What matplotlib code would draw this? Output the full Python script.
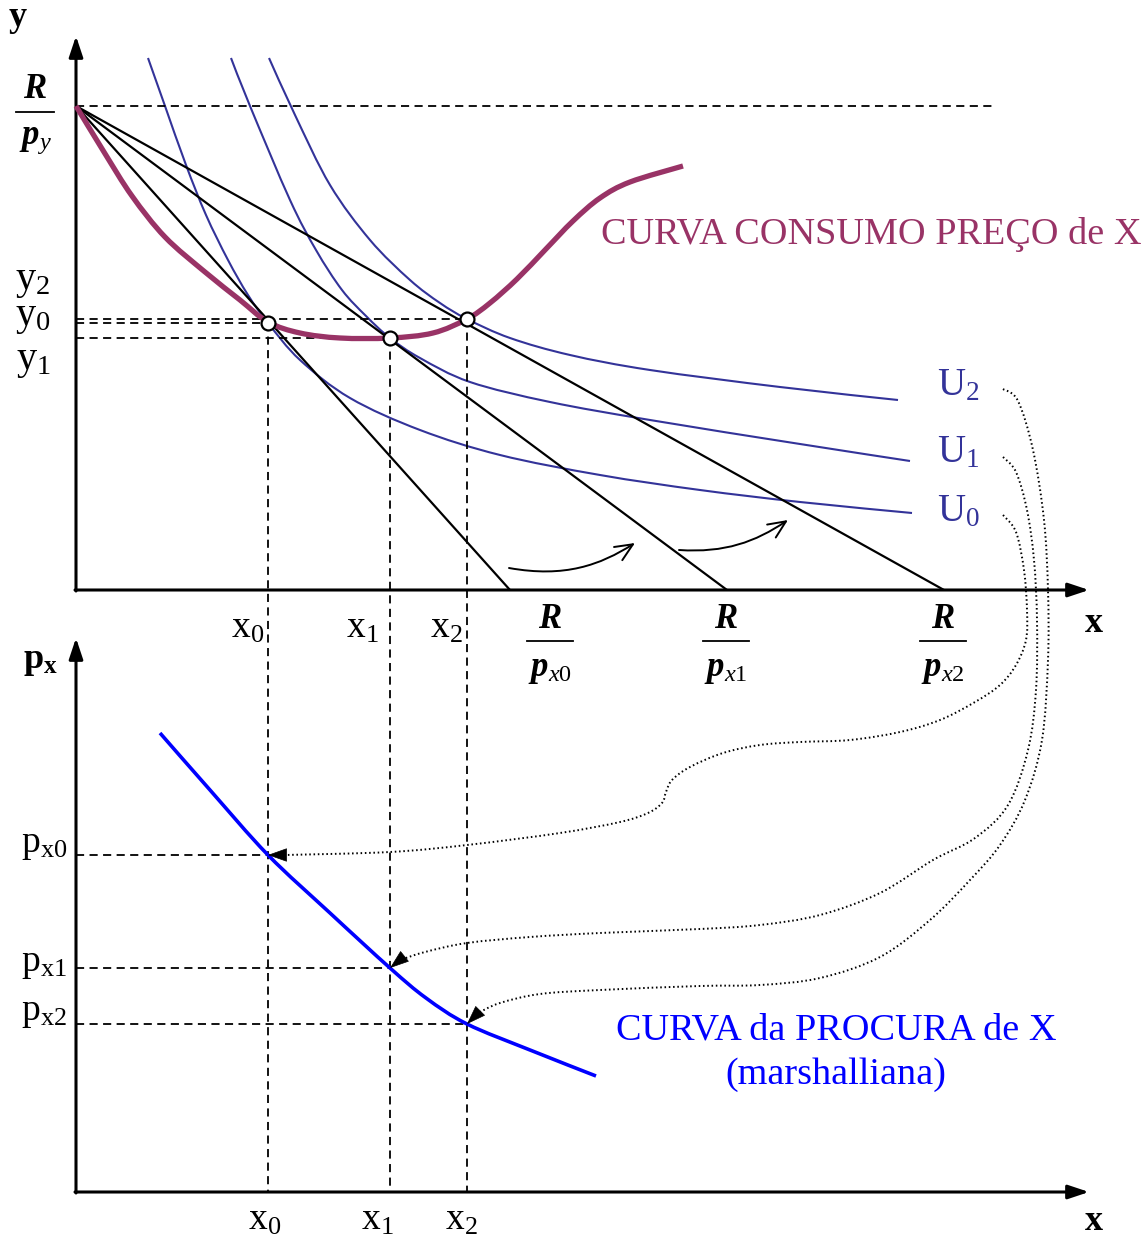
import numpy as np
import matplotlib
matplotlib.use('Agg')
import matplotlib.pyplot as plt
from matplotlib.path import Path
from matplotlib.patches import PathPatch, FancyArrowPatch

plt.rcParams['font.family'] = ['Liberation Serif', 'DejaVu Serif']
plt.rcParams['mathtext.fontset'] = 'custom'
plt.rcParams['mathtext.rm'] = 'Liberation Serif'
plt.rcParams['mathtext.it'] = 'Liberation Serif:italic'
plt.rcParams['mathtext.bf'] = 'Liberation Serif:bold'
plt.rcParams['mathtext.bfit'] = 'Liberation Serif:italic:bold'

# ---- dados (unidades de cada painel, origem no canto dos eixos) ----
# painel de cima: x, y
R_PY = 484                      # R/py
R_PX = [434, 651, 868]          # R/px0, R/px1, R/px2
X_EQ = [192, 314, 391]          # x0, x1, x2
Y_EQ = [267, 252, 271]          # y0, y1, y2

# curva consumo-preço
CCP_X = [0, 28, 56, 89, 129, 164, 192, 224, 264, 314, 357, 391, 414, 441, 469, 497, 524, 554, 607]
CCP_Y = [484, 438, 394, 353, 318, 290, 268, 257, 252, 252, 257, 271, 287, 311, 340, 369, 392, 408, 424]

# curvas de indiferença
U0_X = [72, 89, 110, 130, 152, 172, 192, 224, 274, 344, 424, 524, 624, 724, 836]
U0_Y = [532, 484, 425, 375, 330, 295, 267, 230, 192, 160, 135, 115, 100, 88, 77]
U1_X = [155, 174, 214, 240, 266, 290, 314, 344, 394, 474, 574, 724, 834]
U1_Y = [532, 484, 390, 340, 300, 274, 252, 232, 208, 188, 170, 146, 129]
U2_X = [193, 219, 254, 294, 334, 364, 391, 434, 494, 574, 704, 822]
U2_Y = [532, 475, 405, 350, 310, 287, 271, 252, 235, 220, 203, 190]

# painel de baixo: x, px
PX = [337, 224, 168]            # px0, px1, px2
DEM_X = [84, 134, 192, 254, 314, 350, 391, 454, 520]
DEM_P = [459, 402, 337, 279, 224, 194, 168, 142, 116]

# ligações pontilhadas U -> procura (unidades do painel de baixo)
D0_X = [927, 940, 948, 951, 950, 940, 924, 899, 864, 824, 774, 724, 684, 647, 614, 596, 590, 586, 572, 544, 484, 391, 314, 209]
D0_P = [677, 660, 622, 582, 552, 527, 507, 490, 472, 460, 452, 450, 447, 439, 425, 412, 400, 389, 379, 370, 359, 347, 340, 337]
D1_X = [927, 940, 951, 958, 961, 960, 952, 932, 899, 857, 804, 744, 684, 624, 524, 454, 391, 349, 324]
D1_P = [735, 720, 682, 632, 572, 502, 442, 387, 354, 332, 299, 277, 267, 263, 259, 255, 249, 240, 232]
D2_X = [927, 942, 957, 968, 972, 972, 966, 949, 924, 894, 854, 804, 744, 684, 624, 524, 464, 424, 402]
D2_P = [803, 791, 742, 672, 602, 532, 452, 392, 347, 312, 272, 235, 214, 207, 206, 202, 198, 189, 179]

# setas curvas junto ao eixo (início, controlo1, controlo2, fim)
ARR1 = [(433, 22), (489, 12), (524, 25), (559, 47)]
ARR2 = [(603, 40), (649, 37), (679, 48), (712, 70)]

# ---- layout ----
OX, OY_TOP, OY_BOT = 76, 590, 1192
PURPLE = '#993366'
IND = '#333399'
DEM = '#0000FF'


def top(x, y):
    return OX + np.asarray(x, float), OY_TOP - np.asarray(y, float)


def bot(x, p):
    return OX + np.asarray(x, float), OY_BOT - np.asarray(p, float)


def smooth(xs, ys):
    pts = np.column_stack([xs, ys])
    verts = [pts[0]]
    codes = [Path.MOVETO]
    n = len(pts)
    for i in range(n - 1):
        p0 = pts[i - 1] if i > 0 else pts[i]
        p1 = pts[i]
        p2 = pts[i + 1]
        p3 = pts[i + 2] if i + 2 < n else pts[i + 1]
        verts += [p1 + (p2 - p0) / 6, p2 - (p3 - p1) / 6, p2]
        codes += [Path.CURVE4] * 3
    return Path(verts, codes)


fig = plt.figure(figsize=(11.47, 12.40), dpi=100)
ax = fig.add_axes([0, 0, 1, 1])
ax.set_xlim(0, 1147)
ax.set_ylim(1240, 0)
ax.axis('off')

dash = dict(color='black', lw=1.3, dashes=(4.5, 3.0))

# linhas tracejadas
ax.plot(*top([0, 917], [R_PY, R_PY]), **dash)
for xe, ye, p in zip(X_EQ, Y_EQ, PX):
    ax.plot(*top([0, xe], [ye, ye]), **dash)
    ax.plot([OX + xe, OX + xe], [OY_TOP - ye, OY_BOT], **dash)
    ax.plot(*bot([0, xe], [p, p]), **dash)

# retas orçamentais
for r in R_PX:
    ax.plot(*top([0, r], [R_PY, 0]), color='black', lw=1.6, solid_capstyle='butt')

# curvas de indiferença
for xs, ys in [(U0_X, U0_Y), (U1_X, U1_Y), (U2_X, U2_Y)]:
    ax.add_patch(PathPatch(smooth(*top(xs, ys)), fill=False, ec=IND, lw=1.5))

# curva consumo-preço
ax.add_patch(PathPatch(smooth(*top(CCP_X, CCP_Y)), fill=False, ec=PURPLE, lw=3.8,
                       capstyle='butt', zorder=4))
ax.plot(*top(X_EQ, Y_EQ), 'o', ms=10, mfc='white', mec='black', mew=1.6, zorder=6)

# curva da procura
ax.add_patch(PathPatch(smooth(*bot(DEM_X, DEM_P)), fill=False, ec=DEM, lw=2.6, zorder=4))

# ligações pontilhadas com seta
for xs, ps, xe, p in [(D0_X, D0_P, X_EQ[0], PX[0]), (D1_X, D1_P, X_EQ[1], PX[1]),
                      (D2_X, D2_P, X_EQ[2], PX[2])]:
    ax.add_patch(PathPatch(smooth(*bot(xs, ps)), fill=False, ec='black', lw=1.4,
                           linestyle=(0, (0.8, 1.4))))
    tip = bot(xe, p)
    tail = bot(xs[-1], ps[-1])
    ax.annotate('', xy=tip, xytext=tail,
                arrowprops=dict(arrowstyle='-|>,head_length=0.9,head_width=0.32',
                                mutation_scale=14, lw=0.5, color='black',
                                shrinkA=0, shrinkB=0), zorder=7)

# setas curvas
for a in [ARR1, ARR2]:
    vx, vy = top([v[0] for v in a], [v[1] for v in a])
    path = Path(np.column_stack([vx, vy]), [Path.MOVETO] + [Path.CURVE4] * 3)
    ax.add_patch(FancyArrowPatch(path=path, arrowstyle='->,head_length=0.9,head_width=0.4',
                                 mutation_scale=14, lw=1.4, color='black'))

# eixos
ax_arrow = dict(arrowstyle='-|>,head_length=0.9,head_width=0.3', mutation_scale=14,
                lw=2.2, color='black', shrinkA=0, shrinkB=0)
ax.annotate('', xy=(OX, 36), xytext=(OX, OY_TOP + 1), arrowprops=ax_arrow)
ax.annotate('', xy=(1089, OY_TOP), xytext=(OX - 1, OY_TOP), arrowprops=ax_arrow)
ax.annotate('', xy=(OX, 638), xytext=(OX, OY_BOT + 1), arrowprops=ax_arrow)
ax.annotate('', xy=(1089, OY_BOT), xytext=(OX - 1, OY_BOT), arrowprops=ax_arrow)

# textos dos eixos
ax.text(18, 18, 'y', fontsize=26, fontweight='bold', ha='center', va='center')
ax.text(1094, 624, 'x', fontsize=26, fontweight='bold', ha='center', va='center')
ax.text(1094, 1222, 'x', fontsize=26, fontweight='bold', ha='center', va='center')
ax.text(40, 662, r'$\mathbf{p}_{\mathbf{x}}$', fontsize=26, ha='center', va='center')

# y2, y0, y1
ax.text(33, 281, r'$\mathrm{y}_{\mathrm{2}}$', fontsize=29, ha='center', va='center')
ax.text(33, 318, r'$\mathrm{y}_{\mathrm{0}}$', fontsize=29, ha='center', va='center')
ax.text(33, 361, r'$\mathrm{y}_{\mathrm{1}}$', fontsize=29, ha='center', va='center')

# x0, x1, x2
for i, (xt, xb) in enumerate([(248, 265), (362, 377), (446, 461)]):
    ax.text(xt, 628, r'$\mathrm{x}_{\mathrm{%d}}$' % i, fontsize=27, ha='center', va='center')
    ax.text(xb, 1220, r'$\mathrm{x}_{\mathrm{%d}}$' % i, fontsize=27, ha='center', va='center')

# px0, px1, px2
for i, yy in enumerate([845, 964, 1013]):
    ax.text(44, yy, r'$\mathrm{p}_{\mathrm{x%d}}$' % i, fontsize=27, ha='center', va='center')

# U0, U1, U2
for lab, yy in [('2', 386), ('1', 453), ('0', 512)]:
    ax.text(958, yy, r'$\mathrm{U}_{\mathrm{%s}}$' % lab, fontsize=28, color=IND,
            ha='center', va='center')


# frações R/p
def frac(xc, y_r, y_line, y_p, half, sub):
    ax.text(xc, y_r, r'$\mathbfit{R}$', fontsize=25, ha='center', va='center')
    ax.plot([xc - half, xc + half], [y_line, y_line], color='black', lw=1.3)
    ax.text(xc, y_p, r'$\mathbfit{p}_{%s}$' % sub, fontsize=25, ha='center', va='center')


frac(35, 90, 112, 139, 19, r'\mathit{y}')
for xc, i in zip([550, 726, 943], range(3)):
    frac(xc, 620, 641, 669, 23, r'\mathit{x}\mathrm{%d}' % i)

# títulos das curvas
ax.text(601, 235, 'CURVA CONSUMO PREÇO de X', fontsize=27.5, color=PURPLE, ha='left', va='center')
ax.text(836, 1030, 'CURVA da PROCURA de X', fontsize=27.5, color=DEM, ha='center', va='center')
ax.text(836, 1075, '(marshalliana)', fontsize=27.5, color=DEM, ha='center', va='center')

fig.savefig('out.png', dpi=100)
